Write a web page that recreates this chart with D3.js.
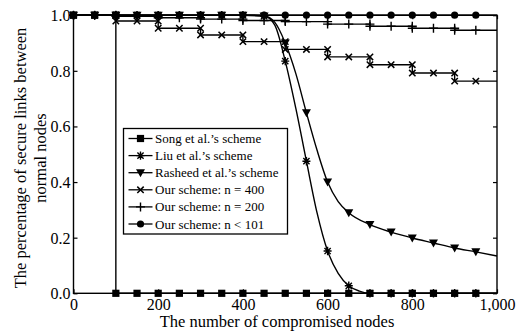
<!DOCTYPE html>
<html><head><meta charset="utf-8">
<script src="https://cdn.jsdelivr.net/npm/d3@7"></script>
<style>body{margin:0;background:#fff}svg{display:block}</style>
</head><body>
<svg id="c" width="522" height="331"></svg>
<script>
// ---- data ----
const xTicks = [0,200,400,600,800,1000];
const xTickLabels = ["0","200","400","600","800","1,000"];
const yTicks = [0,0.2,0.4,0.6,0.8,1.0];
const yTickLabels = ["0.0","0.2","0.4","0.6","0.8","1.0"];
const legendNames = ["Song et al.\u2019s scheme","Liu et al.\u2019s scheme","Rasheed et al.\u2019s scheme","Our scheme: n = 400","Our scheme: n = 200","Our scheme: n < 101"];

const songX = [0,50,100,100,150,200,250,300,350,400,450,500,550,600,650,700,750,800,850,900,950,1000];
const songY = [1,1,1,0,0,0,0,0,0,0,0,0,0,0,0,0,0,0,0,0,0,0];

const liuX = [0,50,100,150,200,250,300,350,400,450,475,500,525,550,575,600,625,650,675,700,750,800,850,900,950,1000];
const liuY = [1,1,1,1,1,1,1,1,1,0.997,0.965,0.835,0.665,0.475,0.29,0.152,0.072,0.027,0.008,0,0,0,0,0,0,0];

const rasX = [0,50,100,150,200,250,300,350,400,450,475,500,525,550,575,600,625,650,700,750,800,850,900,950,1000];
const rasY = [1,1,1,1,1,1,1,1,1,0.997,0.975,0.9,0.79,0.649,0.515,0.40,0.33,0.29,0.247,0.22,0.199,0.181,0.163,0.149,0.134];

const n400X = [0,50,100,100,150,200,200,250,300,300,350,400,400,450,500,500,550,600,600,650,700,700,750,800,800,850,900,900,950,1000];
const n400Y = [1,1,1,0.979,0.979,0.979,0.953,0.953,0.953,0.929,0.929,0.929,0.905,0.905,0.905,0.877,0.877,0.877,0.85,0.85,0.85,0.822,0.822,0.822,0.792,0.792,0.792,0.763,0.763,0.763];

const n200X = [0,50,100,100,150,200,200,250,300,300,350,400,400,450,500,500,550,600,600,650,700,700,750,800,800,850,900,900,950,1000];
const n200Y = [1,1,1,0.996,0.996,0.996,0.991,0.991,0.991,0.986,0.986,0.986,0.981,0.981,0.981,0.977,0.977,0.977,0.968,0.968,0.968,0.96,0.96,0.96,0.953,0.953,0.953,0.946,0.946,0.946];

const n101X = [0,50,100,150,200,250,300,350,400,450,500,550,600,650,700,750,800,850,900,950,1000];
const n101Y = [1,1,1,1,1,1,1,1,1,1,1,1,1,1,1,1,1,1,1,1,1];

// ---- chart ----
const FONT = "Liberation Serif";
const svg = d3.select("#c");
const L=73.5, R=497, T=15.2, B=293.3;
const x = d3.scaleLinear().domain([0,1000]).range([L,R]);
const y = d3.scaleLinear().domain([0,1]).range([B,T]);

const series = [
  {xs:songX, ys:songY, m:"square"},
  {xs:liuX, ys:liuY, m:"star"},
  {xs:rasX, ys:rasY, m:"tri"},
  {xs:n400X, ys:n400Y, m:"x"},
  {xs:n200X, ys:n200Y, m:"plus"},
  {xs:n101X, ys:n101Y, m:"circle"}
];

function marker(g, type, cx, cy){
  const s = g.append("g").attr("transform",`translate(${cx},${cy})`);
  if(type==="square"){
    s.append("rect").attr("x",-3.6).attr("y",-3.6).attr("width",7.2).attr("height",7.2).attr("fill","#000");
  } else if(type==="circle"){
    s.append("circle").attr("r",3.6).attr("fill","#000");
  } else if(type==="tri"){
    s.append("path").attr("d","M-4.5,-3.5L4.5,-3.5L0,4.5Z").attr("fill","#000");
  } else if(type==="x"){
    s.append("path").attr("d","M-3.2,-3.2L3.2,3.2M-3.2,3.2L3.2,-3.2").attr("stroke","#000").attr("stroke-width",1.5);
  } else if(type==="plus"){
    s.append("path").attr("d","M-4.5,0L4.5,0M0,-4.5L0,4.5").attr("stroke","#000").attr("stroke-width",1.4);
  } else if(type==="star"){
    s.append("path").attr("d","M-4,0L4,0M0,-4.2L0,4.2M-3.1,-3.1L3.1,3.1M-3.1,3.1L3.1,-3.1").attr("stroke","#000").attr("stroke-width",1.4);
  }
}

const plot = svg.append("g");
const line = d3.line().x(d=>x(d[0])).y(d=>y(d[1]));
const smooth = d3.line().x(d=>x(d[0])).y(d=>y(d[1])).curve(d3.curveMonotoneX);

series.forEach((s,i)=>{
  const pts = s.xs.map((v,j)=>[v,s.ys[j]]);
  const gen = (s.m==="star"||s.m==="tri") ? smooth : line;
  plot.append("path").attr("d",gen(pts)).attr("fill","none").attr("stroke","#000").attr("stroke-width",1.4);
  const mg = plot.append("g");
  pts.forEach(p=>{ if(p[0]<1000 && p[0]%50===0) marker(mg, s.m, x(p[0]), y(p[1])); });
});

// frame
svg.append("rect").attr("x",L).attr("y",T).attr("width",R-L).attr("height",B-T).attr("fill","none").attr("stroke","#000").attr("stroke-width",1.4);

// axes with inward ticks
const ax = svg.append("g").attr("transform",`translate(0,${B})`).call(d3.axisBottom(x).tickValues(xTicks).tickSize(-4).tickPadding(5).tickFormat((d,i)=>xTickLabels[i]));
const axT = svg.append("g").attr("transform",`translate(0,${T})`).call(d3.axisTop(x).tickValues(xTicks).tickSize(-4).tickFormat(""));
const ay = svg.append("g").attr("transform",`translate(${L},0)`).call(d3.axisLeft(y).tickValues(yTicks).tickSize(-4).tickPadding(3).tickFormat((d,i)=>yTickLabels[i]));
const ayR = svg.append("g").attr("transform",`translate(${R},0)`).call(d3.axisRight(y).tickValues(yTicks).tickSize(-4).tickFormat(""));
[ax,axT,ay,ayR].forEach(a=>{
  a.attr("font-family", FONT).attr("font-size", 16);
  a.select(".domain").remove();
  a.selectAll("line").attr("stroke","#000").attr("stroke-width",1.2);
  a.selectAll("text").attr("fill","#000").attr("font-family", FONT).attr("font-size", 16);
});
ax.selectAll("text").attr("dy","0.71em");
ay.selectAll("text").attr("dy","0.34em");

// axis titles
svg.append("text").attr("x",277).attr("y",327).attr("text-anchor","middle").attr("font-family",FONT).attr("font-size",16.5).text("The number of compromised nodes");
const yt = svg.append("text").attr("transform","translate(26,158) rotate(-90)").attr("text-anchor","middle").attr("font-family",FONT).attr("font-size",16.5);
yt.append("tspan").attr("x",0).attr("y",0).text("The percentage of secure links between");
yt.append("tspan").attr("x",0).attr("y",20).text("normal nodes");

// legend
const lg = svg.append("g");
lg.append("rect").attr("x",123.5).attr("y",128.5).attr("width",164).attr("height",105.5).attr("fill","#fff").attr("stroke","#000").attr("stroke-width",1.3);
legendNames.forEach((n,i)=>{
  const yy = 138.5 + i*17.1;
  lg.append("line").attr("x1",128.5).attr("x2",152.5).attr("y1",yy).attr("y2",yy).attr("stroke","#000").attr("stroke-width",1.3);
  marker(lg, series[i].m, 140.5, yy);
  lg.append("text").attr("x",155).attr("y",yy).attr("dy","0.35em").attr("font-family",FONT).attr("font-size",13).text(n);
});
</script>
</body></html>
